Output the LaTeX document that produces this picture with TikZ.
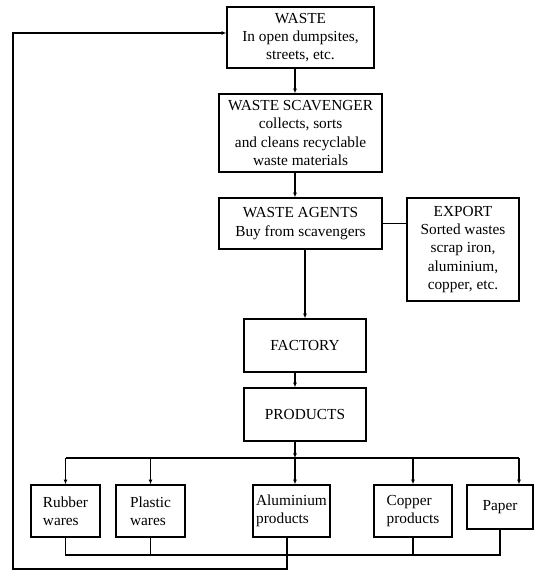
\documentclass[tikz,border=0pt]{standalone}
\usepackage{fontspec}
\setmainfont{Liberation Serif}
\usetikzlibrary{arrows.meta}

\tikzset{
  box/.style={draw, line width=1pt, inner sep=1pt, align=center,
    font=\fontsize{11.5}{13.75}\selectfont},
  itembox/.style={box, align=left, minimum height=52*0.75pt},
  link/.style={line width=1pt},
  arr/.style={link, -{Latex[length=3.5pt,width=3pt]}},
}

\begin{document}
\begin{tikzpicture}[x=0.75pt, y=-0.75pt]
  \useasboundingbox (0,0) rectangle (534,571);

  \coordinate (mid) at (295,0);
  \coordinate (bus) at (295,458);
  \coordinate (pdrop) at (519,458);
  \coordinate (ret) at (287,555);
  \coordinate (corner) at (13,569);
  \coordinate (back) at (13,33);

  \node[box, minimum width=147*0.75pt, minimum height=61*0.75pt] (waste) at (300.5,37.5)
    {WASTE\\In open dumpsites,\\streets, etc.};
  \node[box, minimum width=163*0.75pt, minimum height=78*0.75pt] (scav) at (300.5,133)
    {WASTE SCAVENGER\\collects, sorts\\and cleans recyclable\\waste materials};
  \node[box, minimum width=163*0.75pt, minimum height=51*0.75pt] (agents) at (300.5,223.5)
    {WASTE AGENTS\\Buy from scavengers};
  \node[box, minimum width=112*0.75pt, minimum height=103*0.75pt] (export) at (463,249.5)
    {EXPORT\\Sorted wastes\\scrap iron,\\aluminium,\\copper, etc.};
  \node[box, minimum width=122*0.75pt, minimum height=53*0.75pt] (factory) at (305,345.5) {FACTORY};
  \node[box, minimum width=122*0.75pt, minimum height=53*0.75pt] (products) at (305,414.5) {PRODUCTS};

  \node[itembox, minimum width=69*0.75pt] (rubber) at (65.5,511) {Rubber\\wares};
  \node[itembox, minimum width=69*0.75pt] (plastic) at (150.5,511) {Plastic\\wares};
  \node[itembox, minimum width=77*0.75pt] (alum) at (291.5,511) {Aluminium\\products};
  \node[itembox, minimum width=78*0.75pt] (copper) at (413,511) {Copper\\products};
  \node[box, minimum width=66*0.75pt, minimum height=44*0.75pt] (paper) at (500,507) {Paper};

  \draw[arr] (waste.south -| mid) -- (scav.north -| mid);
  \draw[arr] (scav.south -| mid) -- (agents.north -| mid);
  \draw[link] (agents.east) -- (export.west |- agents.east);
  \draw[arr] (agents.south -| factory) -- (factory.north);
  \draw[arr] (factory.south -| mid) -- (products.north -| mid);
  \draw[arr] (products.south -| mid) -- (bus);

  \draw[link] (rubber |- bus) -- (pdrop);
  \foreach \n in {rubber,plastic,copper}
    \draw[arr] (\n |- bus) -- (\n.north);
  \draw[arr] (bus) -- (alum.north -| mid);
  \draw[arr] (pdrop) -- (paper.north -| pdrop);

  \draw[link] (rubber.south) -- (rubber |- ret) -- (paper |- ret) -- (paper.south);
  \foreach \n in {plastic,copper}
    \draw[link] (\n.south) -- (\n |- ret);
  \draw[arr] (alum.south -| ret) |- (corner) -- (back) -- (back -| waste.west);
\end{tikzpicture}
\end{document}
